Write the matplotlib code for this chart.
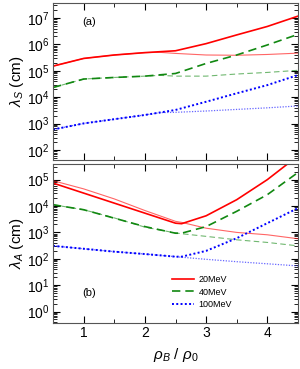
import numpy as np
import matplotlib
matplotlib.use("Agg")
import matplotlib.pyplot as plt
from matplotlib.ticker import LogLocator, NullFormatter, MultipleLocator

plt.rcParams['font.family'] = ['Liberation Sans', 'DejaVu Sans']
plt.rcParams['mathtext.fontset'] = 'custom'
plt.rcParams['mathtext.rm'] = 'Liberation Sans'
plt.rcParams['mathtext.it'] = 'Liberation Sans:italic'

# density grid (rho_B / rho_0)
x = [0.5, 1.0, 1.5, 2.0, 2.5, 3.0, 3.5, 4.0, 4.5]
x_lo = [0.5, 1.0, 1.5, 2.0, 2.25]        # where thick/thin overlap
x_hi = [2.25, 2.5, 3.0, 3.5, 4.0, 4.5]   # thin branch after split

# panel (a): log10 lambda_S
s20_thick = [5.18, 5.47, 5.6, 5.69, 5.76, 6.03, 6.36, 6.68, 7.07]
s20_thin = [5.7, 5.66, 5.6, 5.59, 5.62, 5.67]
s40_thick = [4.37, 4.69, 4.75, 4.8, 4.9, 5.28, 5.6, 5.98, 6.38]
s40_thin = [4.83, 4.8, 4.8, 4.88, 4.94, 5.02]
s100_thick = [2.78, 3.01, 3.17, 3.33, 3.52, 3.83, 4.15, 4.46, 4.84]
s100_thin = [3.42, 3.43, 3.48, 3.54, 3.6, 3.67]

# panel (b): log10 lambda_A
xa = [0.5, 1.0, 1.5, 2.0, 2.5, 2.6, 3.0, 3.5, 4.0, 4.5]
a20_thick = [4.87, 4.49, 4.11, 3.73, 3.35, 3.33, 3.63, 4.24, 5.0, 5.9]
a20_thin = [4.96, 4.65, 4.27, 3.83, 3.42, 3.38, 3.16, 3.0, 2.91, 2.76]
a40_thick = [4.05, 3.86, 3.54, 3.22, 2.97, 2.97, 3.22, 3.8, 4.43, 5.27]
a40_thin = [4.05, 3.86, 3.55, 3.2, 2.98, 2.95, 2.85, 2.72, 2.62, 2.49]
a100_thick = [2.49, 2.38, 2.27, 2.18, 2.08, 2.08, 2.3, 2.78, 3.35, 3.92]
a100_thin = [2.49, 2.38, 2.27, 2.18, 2.08, 2.06, 1.98, 1.89, 1.81, 1.73]

labels = ["20MeV", "40MeV", "100MeV"]
decades_a = [2, 3, 4, 5, 6, 7]
decades_b = [0, 1, 2, 3, 4, 5]
RED, GREEN, BLUE = "#ff0000", "#118811", "#0000ff"

fig = plt.figure(figsize=(3.0, 3.69), dpi=100)
ax1 = fig.add_axes([0.177, 0.566, 0.816, 0.426])
ax2 = fig.add_axes([0.177, 0.125, 0.816, 0.431])

def p(v):
    return 10.0 ** np.array(v)

dash = (0, (5, 3))
dot = (0, (1, 1.2))

# (a)
ax1.plot(x, p(s20_thick), color=RED, lw=1.2)
ax1.plot(x_lo + x_hi[1:], p(s20_thick[:4] + s20_thin), color=RED, lw=0.8, alpha=0.6)
ax1.plot(x, p(s40_thick), color=GREEN, lw=1.2, ls=dash)
ax1.plot(x_lo + x_hi[1:], p(s40_thick[:4] + s40_thin), color=GREEN, lw=0.8, ls=dash, alpha=0.6)
ax1.plot(x, p(s100_thick), color=BLUE, lw=1.4, ls=dot)
ax1.plot(x_lo + x_hi[1:], p(s100_thick[:4] + s100_thin), color=BLUE, lw=0.9, ls=dot, alpha=0.6)

# (b)
l1, = ax2.plot(xa, p(a20_thick), color=RED, lw=1.2)
ax2.plot(xa, p(a20_thin), color=RED, lw=0.8, alpha=0.6)
l2, = ax2.plot(xa, p(a40_thick), color=GREEN, lw=1.2, ls=dash)
ax2.plot(xa, p(a40_thin), color=GREEN, lw=0.8, ls=dash, alpha=0.6)
l3, = ax2.plot(xa, p(a100_thick), color=BLUE, lw=1.4, ls=dot)
ax2.plot(xa, p(a100_thin), color=BLUE, lw=0.9, ls=dot, alpha=0.6)

for ax, dec in ((ax1, decades_a), (ax2, decades_b)):
    ax.set_yscale("log")
    ax.set_xlim(0.5, 4.5)
    ax.xaxis.set_major_locator(MultipleLocator(1))
    ax.xaxis.set_minor_locator(MultipleLocator(0.5))
    ax.set_yticks(p(dec))
    ax.set_yticklabels([rf"$10^{{{d}}}$" for d in dec])
    ax.yaxis.set_minor_locator(LogLocator(base=10, subs=np.arange(2, 10), numticks=20))
    ax.yaxis.set_minor_formatter(NullFormatter())
    ax.tick_params(which="both", direction="in", top=True, right=True, labelsize=10)
    ax.tick_params(which="major", length=5, width=0.8, pad=2.5)
    ax.tick_params(which="minor", length=3, width=0.6)
    for s in ax.spines.values():
        s.set_linewidth(0.8)
        s.set_color("#555555")

ax1.set_ylim(10 ** 1.62, 10 ** 7.57)
ax2.set_ylim(10 ** -0.43, 10 ** 5.6)
ax1.set_xticklabels([])
ax1.set_ylabel(r"$\lambda_S$ (cm)", fontsize=11, labelpad=1)
ax2.set_ylabel(r"$\lambda_A$ (cm)", fontsize=11, labelpad=1)
ax2.set_xlabel(r"$\rho_B\ /\ \rho_0$", fontsize=11, labelpad=4)

ax1.text(0.98, 10 ** 6.75, "(a)", fontsize=8)
ax2.text(0.98, 10 ** 0.6, "(b)", fontsize=8)

ax2.legend([l1, l2, l3], labels, loc="lower right", bbox_to_anchor=(0.765, 0.035),
           frameon=False, fontsize=6.5, handlelength=2.5, handletextpad=0.5,
           labelspacing=0.4)

fig.savefig("out.png", dpi=100)
